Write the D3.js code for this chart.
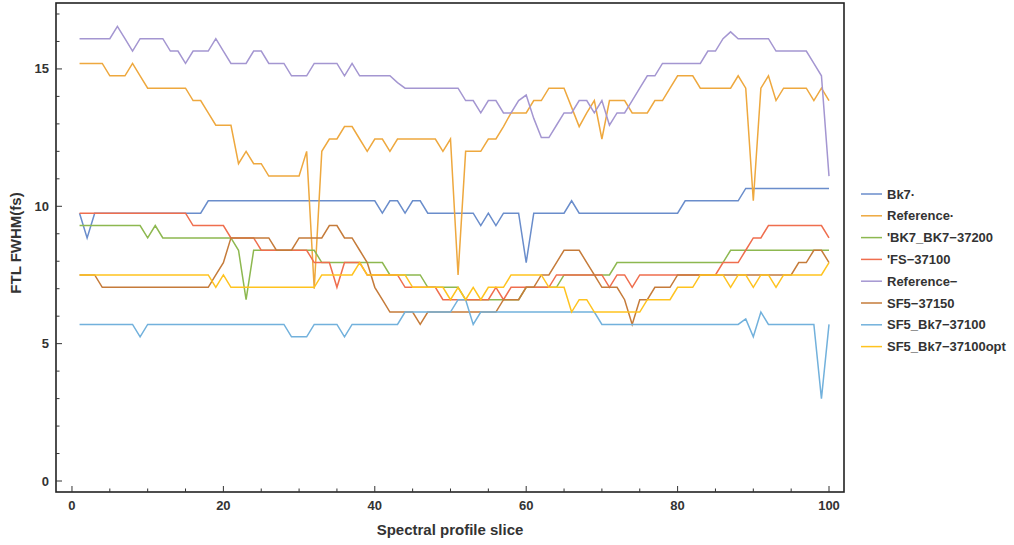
<!DOCTYPE html>
<html><head><meta charset="utf-8">
<script src="https://cdn.jsdelivr.net/npm/d3@7"></script>
<style>
body{margin:0;background:#fff;}
text{font-family:"Liberation Sans",Arial,sans-serif;}
</style></head>
<body><svg id="c" width="1014" height="545"></svg>
<script>
const slices = d3.range(1, 101);
const seriesNames = ["Bk7·","Reference·","'BK7_BK7−37200","'FS−37100","Reference−","SF5−37150","SF5_Bk7−37100","SF5_Bk7−37100opt"];
const seriesColors = ["#6A8DCB","#EEA83E","#8DB850","#EF6E4E","#A496D1","#C57B3A","#72B1DC","#FFC31F"];

const bk7 = [9.75,8.85,9.75,9.75,9.75,9.75,9.75,9.75,9.75,9.75,
9.75,9.75,9.75,9.75,9.75,9.75,9.75,10.2,10.2,10.2,
10.2,10.2,10.2,10.2,10.2,10.2,10.2,10.2,10.2,10.2,
10.2,10.2,10.2,10.2,10.2,10.2,10.2,10.2,10.2,10.2,
9.75,10.2,10.2,9.75,10.2,10.2,9.75,9.75,9.75,9.75,
9.75,9.75,9.75,9.3,9.75,9.3,9.75,9.75,9.75,7.95,
9.75,9.75,9.75,9.75,9.75,10.2,9.75,9.75,9.75,9.75,
9.75,9.75,9.75,9.75,9.75,9.75,9.75,9.75,9.75,9.75,
10.2,10.2,10.2,10.2,10.2,10.2,10.2,10.2,10.65,10.65,
10.65,10.65,10.65,10.65,10.65,10.65,10.65,10.65,10.65,10.65];

const reference = [15.2,15.2,15.2,15.2,14.75,14.75,14.75,15.2,14.75,14.3,
14.3,14.3,14.3,14.3,14.3,13.85,13.85,13.4,12.95,12.95,
12.95,11.55,12.0,11.55,11.55,11.1,11.1,11.1,11.1,11.1,
12.0,7.0,12.0,12.45,12.45,12.9,12.9,12.45,12.0,12.45,
12.45,12.0,12.45,12.45,12.45,12.45,12.45,12.45,12.0,12.45,
7.5,12.0,12.0,12.0,12.45,12.45,12.9,13.4,13.4,13.4,
13.85,13.85,14.3,14.3,14.3,13.6,12.9,13.4,13.85,12.45,
13.85,13.85,13.85,13.4,13.4,13.4,13.85,13.85,14.3,14.75,
14.75,14.75,14.3,14.3,14.3,14.3,14.3,14.75,14.3,10.2,
14.3,14.75,13.85,14.3,14.3,14.3,14.3,13.85,14.3,13.85];

const bk7Bk7_37200 = [9.3,9.3,9.3,9.3,9.3,9.3,9.3,9.3,9.3,8.85,
9.3,8.85,8.85,8.85,8.85,8.85,8.85,8.85,8.85,8.85,
8.85,8.4,6.6,8.4,8.4,8.4,8.4,8.4,8.4,8.4,
8.4,8.4,7.95,7.95,7.95,7.95,7.95,7.95,7.95,7.95,
7.95,7.5,7.5,7.5,7.5,7.5,7.05,7.05,7.05,7.05,
7.05,6.6,6.6,6.6,6.6,6.6,6.6,6.6,6.6,7.05,
7.05,7.05,7.05,7.05,7.5,7.5,7.5,7.5,7.5,7.5,
7.5,7.95,7.95,7.95,7.95,7.95,7.95,7.95,7.95,7.95,
7.95,7.95,7.95,7.95,7.95,7.95,8.4,8.4,8.4,8.4,
8.4,8.4,8.4,8.4,8.4,8.4,8.4,8.4,8.4,8.4];

const fs37100 = [9.75,9.75,9.75,9.75,9.75,9.75,9.75,9.75,9.75,9.75,
9.75,9.75,9.75,9.75,9.75,9.3,9.3,9.3,9.3,9.3,
8.85,8.85,8.85,8.85,8.4,8.4,8.4,8.4,8.4,8.4,
8.4,7.95,7.95,7.95,7.05,7.95,7.95,7.95,7.5,7.5,
7.5,7.5,7.5,7.05,7.05,7.05,7.05,7.05,6.6,6.6,
6.6,6.6,6.6,6.6,6.6,7.05,6.6,7.05,7.05,7.05,
7.05,7.05,7.05,7.5,7.5,7.5,7.5,7.5,7.5,7.5,
7.05,7.5,7.5,7.05,7.5,7.5,7.5,7.5,7.5,7.5,
7.5,7.5,7.5,7.5,7.5,7.95,7.95,7.95,8.4,8.85,
8.85,9.3,9.3,9.3,9.3,9.3,9.3,9.3,9.3,8.85];

const referenceMinus = [16.1,16.1,16.1,16.1,16.1,16.55,16.1,15.65,16.1,16.1,
16.1,16.1,15.65,15.65,15.2,15.65,15.65,15.65,16.1,15.65,
15.2,15.2,15.2,15.65,15.65,15.2,15.2,15.2,14.75,14.75,
14.75,15.2,15.2,15.2,15.2,14.75,15.2,14.75,14.75,14.75,
14.75,14.75,14.5,14.3,14.3,14.3,14.3,14.3,14.3,14.3,
14.3,13.85,13.85,13.4,13.85,13.85,13.4,13.4,13.85,14.05,
13.2,12.5,12.5,12.95,13.4,13.4,13.85,13.85,13.4,13.85,
12.95,13.4,13.4,13.85,14.3,14.75,14.75,15.2,15.2,15.2,
15.2,15.2,15.2,15.65,15.65,16.1,16.35,16.1,16.1,16.1,
16.1,16.1,15.65,15.65,15.65,15.65,15.65,15.2,14.75,11.1];

const sf5_37150 = [7.5,7.5,7.5,7.05,7.05,7.05,7.05,7.05,7.05,7.05,
7.05,7.05,7.05,7.05,7.05,7.05,7.05,7.05,7.5,7.95,
8.85,8.85,8.85,8.85,8.85,8.85,8.4,8.4,8.4,8.85,
8.85,8.85,8.85,9.3,9.3,8.85,8.85,8.4,7.95,7.05,
6.6,6.15,6.15,6.15,6.15,5.7,6.15,6.15,6.15,6.15,
6.15,6.15,6.15,6.15,6.15,6.15,6.6,6.6,6.6,7.05,
7.05,7.5,7.5,7.95,8.4,8.4,8.4,7.95,7.5,7.05,
7.05,7.05,6.6,5.7,6.6,6.6,7.05,7.05,7.05,7.5,
7.5,7.5,7.5,7.5,7.5,7.5,7.5,7.5,7.5,7.5,
7.5,7.5,7.5,7.5,7.5,7.95,7.95,8.4,8.4,7.95];

const sf5Bk7_37100 = [5.7,5.7,5.7,5.7,5.7,5.7,5.7,5.7,5.25,5.7,
5.7,5.7,5.7,5.7,5.7,5.7,5.7,5.7,5.7,5.7,
5.7,5.7,5.7,5.7,5.7,5.7,5.7,5.7,5.25,5.25,
5.25,5.7,5.7,5.7,5.7,5.25,5.7,5.7,5.7,5.7,
5.7,5.7,5.7,6.15,6.15,6.15,6.15,6.15,6.15,6.15,
6.6,6.6,5.7,6.15,6.15,6.15,6.15,6.15,6.15,6.15,
6.15,6.15,6.15,6.15,6.15,6.15,6.15,6.15,6.15,5.7,
5.7,5.7,5.7,5.7,5.7,5.7,5.7,5.7,5.7,5.7,
5.7,5.7,5.7,5.7,5.7,5.7,5.7,5.7,5.9,5.25,
6.15,5.7,5.7,5.7,5.7,5.7,5.7,5.7,3.0,5.7];

const sf5Bk7_37100opt = [7.5,7.5,7.5,7.5,7.5,7.5,7.5,7.5,7.5,7.5,
7.5,7.5,7.5,7.5,7.5,7.5,7.5,7.5,7.05,7.5,
7.05,7.05,7.05,7.05,7.05,7.05,7.05,7.05,7.05,7.05,
7.05,7.05,7.5,7.5,7.5,7.5,7.5,7.95,7.5,7.5,
7.5,7.5,7.5,7.5,7.05,7.05,7.05,7.05,7.05,6.6,
7.05,6.6,7.05,6.6,7.05,7.05,7.05,7.5,7.5,7.5,
7.5,7.5,7.05,7.05,7.05,6.15,6.6,6.6,6.15,6.15,
6.15,6.15,6.15,6.15,6.15,6.6,6.6,6.6,6.6,7.05,
7.05,7.05,7.5,7.5,7.5,7.5,7.05,7.5,7.5,7.05,
7.5,7.5,7.05,7.5,7.5,7.5,7.5,7.5,7.5,7.95];

const xTicks = [0,20,40,60,80,100];
const yTicks = [0,5,10,15];
const xLabel = "Spectral profile slice";
const yLabel = "FTL FWHM(fs)";

const allSeries = [bk7, reference, bk7Bk7_37200, fs37100, referenceMinus, sf5_37150, sf5Bk7_37100, sf5Bk7_37100opt];

const svg = d3.select("#c");
const L = 56, R = 844, T = 3, B = 492;
const x = d3.scaleLinear().domain([-2.11, 101.98]).range([L, R]);
const y = d3.scaleLinear().domain([-0.4, 17.4]).range([B, T]);

// lines
const line = d3.line().x((d,i)=>x(slices[i])).y(d=>y(d));
const g = svg.append("g");
allSeries.forEach((s, k) => {
  g.append("path").datum(s).attr("d", line)
    .attr("fill","none").attr("stroke", seriesColors[k])
    .attr("stroke-width",1.5).attr("stroke-linejoin","miter");
});

// frame
svg.append("rect").attr("x",L).attr("y",T).attr("width",R-L).attr("height",B-T)
  .attr("fill","none").attr("stroke","#222").attr("stroke-width",1.6);

// x axis ticks (inward)
const xa = svg.append("g").attr("transform",`translate(0,${B})`);
xa.call(d3.axisBottom(x).tickValues(d3.range(0,101,5)).tickSize(0).tickFormat(""));
xa.select(".domain").remove();
d3.range(0,101,5).forEach(v=>{
  const major = v%20===0;
  xa.append("line").attr("x1",x(v)).attr("x2",x(v)).attr("y1",0).attr("y2",major?-6:-3.5)
    .attr("stroke","#333").attr("stroke-width",1);
});
xTicks.forEach(v=>{
  xa.append("text").attr("x",x(v)).attr("y",18).attr("text-anchor","middle")
    .attr("font-size",13).attr("font-weight","bold").attr("fill","#333").text(v);
});

// y axis ticks (inward)
const ya = svg.append("g").attr("transform",`translate(${L},0)`);
ya.call(d3.axisLeft(y).tickValues(d3.range(0,18,1)).tickSize(0).tickFormat(""));
ya.select(".domain").remove();
d3.range(0,18,1).forEach(v=>{
  const major = v%5===0;
  ya.append("line").attr("x1",0).attr("x2",major?6:3.5).attr("y1",y(v)).attr("y2",y(v))
    .attr("stroke","#333").attr("stroke-width",1);
});
yTicks.forEach(v=>{
  ya.append("text").attr("x",-7).attr("y",y(v)+4.5).attr("text-anchor","end")
    .attr("font-size",13).attr("font-weight","bold").attr("fill","#333").text(v);
});

// axis titles
svg.append("text").attr("x",450).attr("y",535).attr("text-anchor","middle")
  .attr("font-size",15).attr("font-weight","bold").attr("fill","#333").text(xLabel);
svg.append("text").attr("transform","translate(21,243) rotate(-90)").attr("text-anchor","middle")
  .attr("font-size",15).attr("font-weight","bold").attr("fill","#333").text(yLabel);

// legend
const lg = svg.append("g");
seriesNames.forEach((n,k)=>{
  const yy = 194 + k*21.8;
  lg.append("line").attr("x1",861).attr("x2",882).attr("y1",yy).attr("y2",yy)
    .attr("stroke",seriesColors[k]).attr("stroke-width",1.5);
  lg.append("text").attr("x",887).attr("y",yy+4.5).attr("font-size",13)
    .attr("font-weight","bold").attr("fill","#333").text(n);
});
</script></body></html>
